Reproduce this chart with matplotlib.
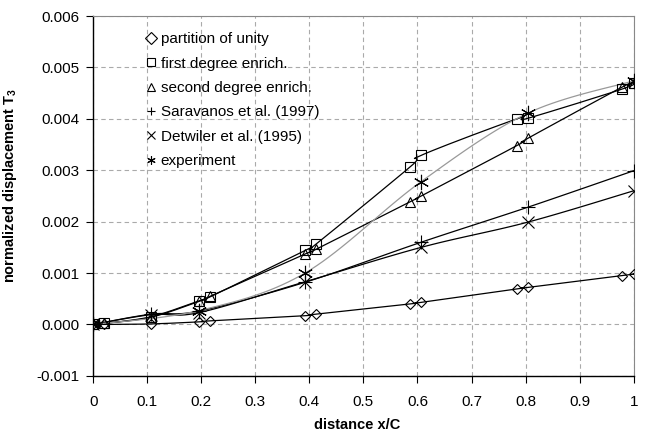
import numpy as np
import matplotlib
matplotlib.use("Agg")
import matplotlib.pyplot as plt

plt.rcParams['font.family'] = ['Liberation Sans', 'DejaVu Sans']
plt.rcParams['mathtext.fontset'] = 'custom'
plt.rcParams['mathtext.rm'] = 'Liberation Sans:bold'
plt.rcParams['mathtext.it'] = 'Liberation Sans:bold'

# data
x_pu = [0, 0.02, 0.107, 0.196, 0.217, 0.392, 0.412, 0.587, 0.607, 0.784, 0.804, 0.979, 1.0]
y_pu = [0, 0, 0.00001, 0.00005, 0.00007, 0.00017, 0.0002, 0.0004, 0.00043, 0.00069, 0.00072, 0.00095, 0.00098]

x_fd = x_pu
y_fd = [0, 0.00002, 0.00015, 0.00046, 0.00054, 0.00144, 0.00156, 0.00307, 0.00329, 0.004, 0.00401, 0.00458, 0.0047]

x_sd = x_pu
y_sd = [0, 0.00002, 0.00014, 0.00045, 0.00055, 0.00137, 0.00146, 0.00239, 0.0025, 0.00348, 0.00362, 0.00462, 0.0047]

x_sar = [0, 0.107, 0.196, 0.392, 0.607, 0.804, 1.0]
y_sar = [0, 0.0002, 0.00026, 0.00082, 0.0016, 0.00228, 0.00299]

x_det = [0, 0.107, 0.196, 0.392, 0.607, 0.804, 1.0]
y_det = [0, 0.00019, 0.00023, 0.00083, 0.0015, 0.00199, 0.0026]

x_exp = [0, 0.196, 0.392, 0.607, 0.804, 1.0]
y_exp = [0, 0.00027, 0.001, 0.00278, 0.00411, 0.00474]


def smooth(x, y, n=20):
    # Excel-like smoothed line: parametric Catmull-Rom in screen-ish units
    sx, sy = 541.0, 360.0 / 0.007
    p = np.column_stack([np.asarray(x) * sx, np.asarray(y) * sy])
    p = np.vstack([p[0], p, p[-1]])
    out = []
    t = np.linspace(0, 1, n)[:, None]
    for i in range(1, len(p) - 2):
        p0, p1, p2, p3 = p[i - 1], p[i], p[i + 1], p[i + 2]
        c1 = p1 + (p2 - p0) / 6
        c2 = p2 - (p3 - p1) / 6
        seg = ((1 - t) ** 3) * p1 + 3 * ((1 - t) ** 2) * t * c1 + 3 * (1 - t) * t ** 2 * c2 + t ** 3 * p2
        out.append(seg)
    out = np.vstack(out)
    return out[:, 0] / sx, out[:, 1] / sy


fig, ax = plt.subplots(figsize=(6.56, 4.33), dpi=100)
fig.subplots_adjust(left=0.142, right=0.966, top=0.963, bottom=0.132)

series = [
    (x_pu, y_pu, 'D', 5, 'black', 'partition of unity'),
    (x_fd, y_fd, 's', 7, 'black', 'first degree enrich.'),
    (x_sd, y_sd, '^', 7, 'black', 'second degree enrich.'),
    (x_sar, y_sar, '+', 10, 'black', 'Saravanos et al. (1997)'),
    (x_det, y_det, 'x', 9, 'black', 'Detwiler et al. (1995)'),
    (x_exp, y_exp, (6, 2, 0), 11, '#999999', 'experiment'),
]

for xs, ys, m, ms, lc, lab in series:
    cx, cy = smooth(xs, ys)
    ax.plot(cx, cy, color=lc, lw=0.9, zorder=3)
    ax.plot(xs, ys, linestyle='none', marker=m, markersize=ms, markerfacecolor='none',
            markeredgecolor='black', markeredgewidth=0.8, zorder=4, label=lab)

ax.set_xlim(0, 1)
ax.set_ylim(-0.001, 0.006)
ax.set_xticks(np.arange(0, 1.01, 0.1))
ax.set_xticklabels(['0', '0.1', '0.2', '0.3', '0.4', '0.5', '0.6', '0.7', '0.8', '0.9', '1'])
ax.set_yticks(np.arange(-0.001, 0.0061, 0.001))
ax.set_yticklabels(['%.3f' % v for v in np.arange(-0.001, 0.0061, 0.001)])
ax.tick_params(direction='out', length=5, width=0.8, labelsize=11)
ax.tick_params(axis='x', pad=9)
ax.tick_params(axis='y', pad=5)
ax.grid(True, color='#aaaaaa', linestyle=(0, (4, 3)), linewidth=0.8)
ax.set_axisbelow(True)
for s in ['top', 'right']:
    ax.spines[s].set_color('#888888')
for s in ['left', 'bottom']:
    ax.spines[s].set_color('black')
    ax.spines[s].set_linewidth(1.0)

ax.set_xlabel('distance x/C', fontweight='bold', fontsize=10.5)
ax.xaxis.set_label_coords(0.488, -0.118)
ax.set_ylabel('normalized displacement T$_3$', fontweight='bold', fontsize=10.5)
ax.yaxis.set_label_coords(-0.138, 0.53)

leg = ax.legend(loc='upper left', bbox_to_anchor=(0.078, 0.985), frameon=False, fontsize=11,
                handlelength=0.7, handletextpad=0.25, labelspacing=0.68, borderpad=0.2)
for h in leg.legend_handles:
    h.set_markersize(6)

fig.savefig('out.png', dpi=100)
